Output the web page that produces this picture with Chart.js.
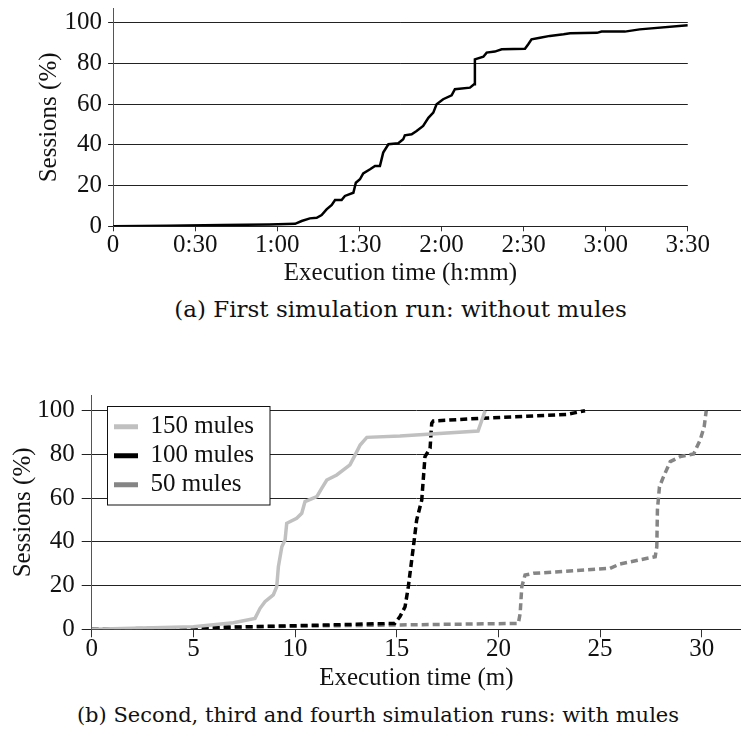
<!DOCTYPE html>
<html>
<head>
<meta charset="utf-8">
<script src="https://cdn.jsdelivr.net/npm/chart.js@4.4.1/dist/chart.umd.min.js"></script>
<style>
  body { margin: 0; background: #fff; width: 741px; height: 731px; position: relative; overflow: hidden; }
  canvas { position: absolute; left: 0; }
  .cap { position: absolute; text-align: center; font-family: "DejaVu Serif"; color: #111; white-space: nowrap; }
</style>
</head>
<body>
<canvas id="runA" width="741" height="290" style="top:0"></canvas>
<div class="cap" style="top:298px;left:100px;width:601px;font-size:23px;line-height:23px">(a) First simulation run: without mules</div>
<canvas id="runB" width="741" height="325" style="top:370px"></canvas>
<div class="cap" style="top:705px;left:0;width:756px;font-size:21px;line-height:21px">(b) Second, third and fourth simulation runs: with mules</div>

<script>
// run (a): execution time in minutes, sessions in %
const runTimes = [0, 20, 40, 57, 66.5, 68.9, 71.9, 74.4, 76.2, 78, 79.9, 81.1, 83.5, 84.7, 87.8, 88.7, 90.2, 91.4, 93.9, 95.7, 97.5, 98.7, 100.6, 104.2, 106, 106.6, 109.1, 110.9, 113.3, 115.2, 117, 118.2, 120.6, 123.7, 124.9, 130.4, 131.9, 132.2, 135.3, 136.5, 139.5, 142, 150.5, 151.7, 152.9, 156, 159.6, 164.6, 167, 176.8, 178.5, 187, 192.4, 210];
const runSessions = [0, 0.3, 0.6, 0.9, 1.2, 2.6, 3.9, 4.2, 5.5, 8.3, 10.5, 12.9, 12.9, 14.9, 16.5, 21.4, 23.1, 26, 28, 29.6, 29.6, 36.2, 40.3, 40.8, 42.7, 44.7, 45.2, 46.8, 49.3, 53.3, 55.8, 59.9, 62.4, 64.3, 67.3, 68.1, 69.7, 82, 83.3, 85.3, 85.8, 86.9, 87.2, 89.4, 91.8, 92.6, 93.5, 94.3, 94.8, 95, 95.6, 95.6, 96.7, 98.7];

// runs (b): execution time in minutes
const labelsB = ['150 mules', '100 mules', '50 mules'];
const m150Time = [0, 5, 6.97, 8.03, 8.28, 8.52, 8.93, 9.1, 9.18, 9.35, 9.51, 9.59, 10.08, 10.33, 10.49, 11.07, 11.31, 11.56, 12.05, 12.7, 12.95, 13.2, 13.53, 15.16, 19.0, 19.35];
const m150Sessions = [0, 1.2, 3.0, 5.0, 9.6, 12.6, 15.7, 19.5, 28.6, 37.8, 40.9, 48.5, 50.8, 53.1, 58.4, 60.7, 64.5, 68.3, 70.6, 75.2, 79.7, 84.3, 87.8, 88.4, 90.7, 100];
const m100Time = [0, 3.7, 8, 13, 14.9, 15.16, 15.41, 15.57, 15.82, 15.98, 16.23, 16.39, 16.64, 16.72, 16.8, 19.1, 23.36, 24.26];
const m100Sessions = [0, 0.3, 1.2, 2.3, 2.7, 5.8, 10.3, 19.5, 37.8, 50, 59.1, 79, 82.8, 94.2, 95.3, 96.5, 98.3, 100];
const m50Time = [0, 8, 15.16, 20.98, 21.07, 21.15, 21.31, 21.72, 25.49, 25.98, 27.71, 27.79, 27.82, 27.92, 28.12, 28.45, 28.94, 29.6, 29.92, 30.12, 30.22];
const m50Sessions = [0, 1.2, 2.0, 2.7, 7.3, 19.5, 24.8, 25.6, 27.9, 29.9, 33.2, 37.8, 54.6, 65.2, 69.8, 76.7, 79, 80.2, 86.6, 92.7, 100];

const pts = (xs, ys) => xs.map((x, i) => ({x: x, y: ys[i]}));

Chart.defaults.font.family = '"Liberation Serif", "Times New Roman", serif';
Chart.defaults.font.size = 25;
Chart.defaults.color = '#111';

function hmm(v) {
  if (v === 0) return '0';
  const m = v % 60;
  return Math.floor(v / 60) + ':' + (m < 10 ? '0' + m : m);
}

const ctxA = document.getElementById('runA');

new Chart(ctxA, {
  type: 'line',
  data: {
    datasets: [{
      label: 'Sessions',
      data: pts(runTimes, runSessions),
      borderColor: '#000',
      borderWidth: 2.5,
      pointRadius: 0,
      tension: 0,
      fill: false
    }]
  },
  options: {
    responsive: false,
    animation: false,
    layout: { padding: { left: 0, top: 8.4, right: 53.2, bottom: 1.7 } },
    plugins: { legend: { display: false }, tooltip: { enabled: false } },
    scales: {
      x: {
        type: 'linear', min: 0, max: 210,
        ticks: { stepSize: 30, padding: 2, includeBounds: false, callback: hmm, maxRotation: 0, font: { lineHeight: 1 } },
        grid: { drawOnChartArea: false, tickLength: 5, tickColor: '#333' },
        border: { color: '#222', width: 1 },
        title: { display: true, text: 'Execution time (h:mm)', padding: 0 },
        afterFit(s) { s.height = 62; s.paddingLeft = 0; s.paddingRight = 0; }
      },
      y: {
        min: 0, max: 107,
        ticks: { stepSize: 20, padding: 6, includeBounds: false },
        grid: { color: '#222', tickColor: '#222', tickLength: 5 },
        border: { color: '#555', width: 1 },
        title: { display: true, text: 'Sessions (%)', padding: { top: 34, bottom: 0 } },
        afterFit(s) { s.width = 113.1; s.paddingTop = 0; s.paddingBottom = 0; }
      }
    }
  }
});

// legend sits inside the plot, in a white framed box
const legendFrame = {
  id: 'legendFrame',
  afterLayout(chart) {
    const lg = chart.legend;
    if (!lg) return;
    lg.left = 110; lg.top = 40.2; lg.right = 280; lg.bottom = 150;
    lg.width = 170; lg.height = 110;
  },
  beforeDatasetsDraw(chart) {
    const c = chart.ctx;
    c.save();
    c.fillStyle = '#fff';
    c.fillRect(107.5, 36.5, 162.5, 98.5);
    c.strokeStyle = '#111';
    c.lineWidth = 1;
    c.strokeRect(107.5, 36.5, 162.5, 98.5);
    c.restore();
    chart.legend.draw();
  }
};

const ctxB = document.getElementById('runB');

new Chart(ctxB, {
  type: 'line',
  data: {
    datasets: [{
      label: labelsB[0],
      data: pts(m150Time, m150Sessions),
      borderColor: '#c0c0c0',
      borderWidth: 3.5,
      pointRadius: 0,
      tension: 0
    }, {
      label: labelsB[1],
      data: pts(m100Time, m100Sessions),
      borderColor: '#000',
      borderWidth: 3.5,
      borderDash: [7, 4],
      pointRadius: 0,
      tension: 0
    }, {
      label: labelsB[2],
      data: pts(m50Time, m50Sessions),
      borderColor: '#858585',
      borderWidth: 3.5,
      borderDash: [7, 4],
      pointRadius: 0,
      tension: 0
    }]
  },
  plugins: [legendFrame],
  options: {
    responsive: false,
    animation: false,
    layout: { padding: { left: 0, top: 25.4, right: 0, bottom: 1.7 } },
    plugins: {
      tooltip: { enabled: false },
      legend: {
        position: 'chartArea',
        align: 'start',
        labels: {
          usePointStyle: true,
          pointStyle: 'line',
          pointStyleWidth: 24,
          padding: 4,
          color: '#111',
          font: { size: 25 },
          generateLabels(chart) {
            return Chart.defaults.plugins.legend.labels.generateLabels(chart).map(item => {
              item.lineWidth = 5;
              if (item.lineDash && item.lineDash.length) item.lineDash = [9, 5];
              return item;
            });
          }
        }
      }
    },
    scales: {
      x: {
        type: 'linear', min: 0, max: 31.93,
        ticks: { stepSize: 5, padding: 0, includeBounds: false, maxRotation: 0, font: { lineHeight: 1 } },
        grid: { drawOnChartArea: false, tickLength: 8, tickColor: '#333' },
        border: { color: '#222', width: 1 },
        title: { display: true, text: 'Execution time (m)', padding: 0 },
        afterFit(s) { s.height = 64; s.paddingLeft = 0; s.paddingRight = 0; }
      },
      y: {
        min: 0, max: 107,
        ticks: { stepSize: 20, padding: 7, includeBounds: false },
        grid: { color: '#222', tickColor: '#222', tickLength: 10 },
        border: { color: '#555', width: 1 },
        title: { display: true, text: 'Sessions (%)', padding: { top: 8, bottom: 0 } },
        afterFit(s) { s.width = 91.7; s.paddingTop = 0; s.paddingBottom = 0; }
      }
    }
  }
});
</script>
</body>
</html>
